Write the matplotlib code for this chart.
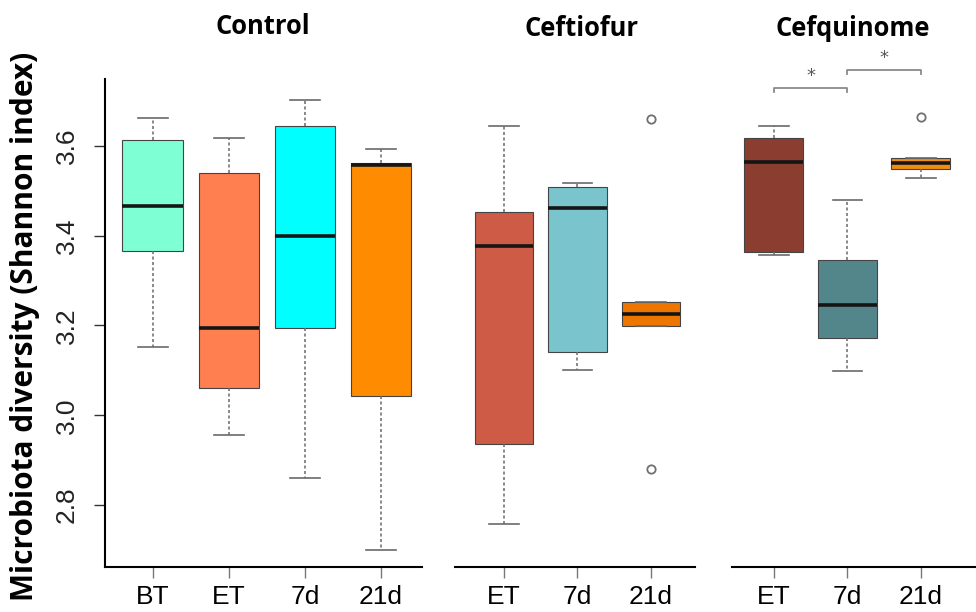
import matplotlib.pyplot as plt

# box statistics
control_labels = ["BT", "ET", "7d", "21d"]
control_whislo = [3.151, 2.955, 2.861, 2.700]
control_q1 = [3.366, 3.060, 3.194, 3.042]
control_med = [3.466, 3.194, 3.400, 3.558]
control_q3 = [3.613, 3.540, 3.645, 3.562]
control_whishi = [3.663, 3.618, 3.703, 3.593]
control_fliers = [[], [], [], []]
control_colors = ["#7FFFD4", "#FF7F50", "#00FFFF", "#FF8C00"]

ceftiofur_labels = ["ET", "7d", "21d"]
ceftiofur_whislo = [2.758, 3.100, 3.198]
ceftiofur_q1 = [2.935, 3.142, 3.198]
ceftiofur_med = [3.377, 3.462, 3.225]
ceftiofur_q3 = [3.453, 3.508, 3.252]
ceftiofur_whishi = [3.645, 3.517, 3.252]
ceftiofur_fliers = [[], [], [3.660, 2.881]]
ceftiofur_colors = ["#CD5B45", "#7AC5CD", "#EE7600"]

cefquinome_labels = ["ET", "7d", "21d"]
cefquinome_whislo = [3.357, 3.098, 3.529]
cefquinome_q1 = [3.363, 3.171, 3.549]
cefquinome_med = [3.564, 3.245, 3.562]
cefquinome_q3 = [3.618, 3.346, 3.573]
cefquinome_whishi = [3.645, 3.479, 3.573]
cefquinome_fliers = [[], [], [3.665]]
cefquinome_colors = ["#8B3E2F", "#53868B", "#F08C10"]

# significance brackets (Cefquinome): pairs of box positions
sig_pairs = [(1, 2), (2, 3)]
sig_heights = [3.729, 3.770]
sig_text = ["*", "*"]

yticks = [2.8, 3.0, 3.2, 3.4, 3.6]
ylim = (2.662, 3.749)

W, H = 976, 612
fig = plt.figure(figsize=(W / 100, H / 100), dpi=100)

def px_axes(x0, x1, y0=79, y1=567):
    return fig.add_axes([x0 / W, 1 - y1 / H, (x1 - x0) / W, (y1 - y0) / H])

def draw_panel(ax, labels, whislo, q1, med, q3, whishi, fliers, colors, xlim, show_y):
    stats = []
    for i in range(len(labels)):
        stats.append({"label": labels[i], "whislo": whislo[i], "q1": q1[i], "med": med[i],
                      "q3": q3[i], "whishi": whishi[i], "fliers": fliers[i]})
    bp = ax.bxp(stats, widths=0.8, capwidths=0.4, patch_artist=True, showfliers=True,
                boxprops=dict(edgecolor="#444444", linewidth=0.8),
                medianprops=dict(color="#151515", linewidth=2.6, solid_capstyle="butt"),
                whiskerprops=dict(color="#6a6a6a", linewidth=1.1, linestyle=(0, (2, 1.6))),
                capprops=dict(color="#6a6a6a", linewidth=1.2),
                flierprops=dict(marker="o", markerfacecolor="none", markeredgecolor="#707070",
                                markersize=6, markeredgewidth=1.3))
    for patch, c in zip(bp["boxes"], colors):
        patch.set_facecolor(c)
    ax.set_xlim(*xlim)
    ax.set_ylim(*ylim)
    ax.spines["top"].set_visible(False)
    ax.spines["right"].set_visible(False)
    ax.spines["bottom"].set_linewidth(1.5)
    ax.tick_params(axis="x", length=8, width=1, color="#777777", pad=5, labelsize=19)
    for t in ax.get_xticklabels():
        t.set_fontfamily("Liberation Sans")
    if show_y:
        ax.spines["left"].set_linewidth(1.5)
        ax.set_yticks(yticks)
        ax.set_yticklabels([f"{v:.1f}" for v in yticks], rotation=90, va="center",
                           fontsize=19, family="Liberation Sans", color="#222222")
        ax.tick_params(axis="y", length=8, width=1, color="#333333", pad=11)
    else:
        ax.spines["left"].set_visible(False)
        ax.set_yticks([])

ax1 = px_axes(105, 422)
draw_panel(ax1, control_labels, control_whislo, control_q1, control_med, control_q3,
           control_whishi, control_fliers, control_colors, (0.37, 4.54), True)

ax2 = px_axes(455, 695)
draw_panel(ax2, ceftiofur_labels, ceftiofur_whislo, ceftiofur_q1, ceftiofur_med, ceftiofur_q3,
           ceftiofur_whishi, ceftiofur_fliers, ceftiofur_colors, (0.333, 3.6), False)

ax3 = px_axes(732, 976)
draw_panel(ax3, cefquinome_labels, cefquinome_whislo, cefquinome_q1, cefquinome_med, cefquinome_q3,
           cefquinome_whishi, cefquinome_fliers, cefquinome_colors, (0.43, 3.75), False)

for (a, b), h, s in zip(sig_pairs, sig_heights, sig_text):
    ax3.plot([a, a, b, b], [h - 0.009, h, h, h - 0.009], color="#8a8a8a", lw=1.3, clip_on=False)
    ax3.text((a + b) / 2, h + 0.006, s, ha="center", va="bottom", fontsize=13, color="#555555",
             clip_on=False)

# panel titles and y label
title_font = dict(fontfamily="Open Sans", fontweight="bold", fontsize=18.4, ha="center", va="center")
fig.text(263 / W, 1 - 26 / H, "Control", **title_font)
fig.text(582 / W, 1 - 28 / H, "Ceftiofur", **title_font)
fig.text(853 / W, 1 - 28 / H, "Cefquinome", **title_font)
fig.text(25 / W, 1 - 326 / H, "Microbiota diversity (Shannon index)", rotation=90,
         ha="center", va="center", fontfamily="Open Sans", fontweight="bold", fontsize=21.5)

fig.savefig("out.png", dpi=100)
